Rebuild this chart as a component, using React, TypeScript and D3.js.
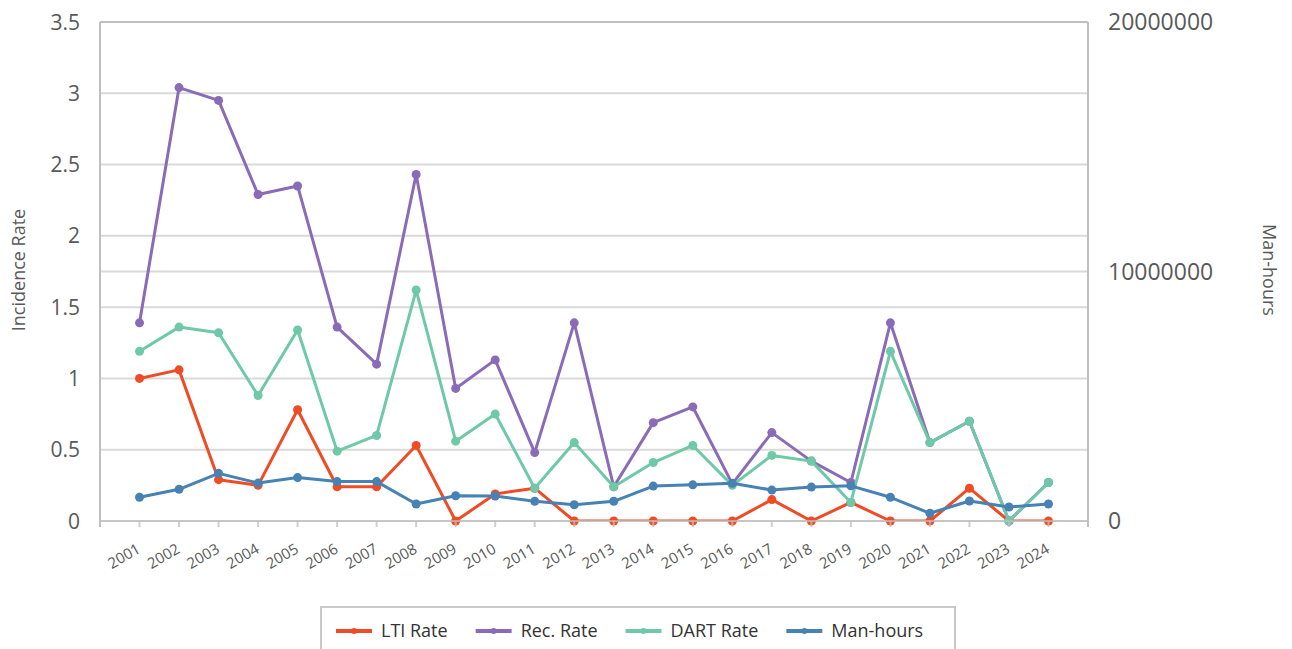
import { useEffect, useRef } from "react";
import * as d3 from "d3";

const years = [
  "2001", "2002", "2003", "2004", "2005", "2006", "2007", "2008",
  "2009", "2010", "2011", "2012", "2013", "2014", "2015", "2016",
  "2017", "2018", "2019", "2020", "2021", "2022", "2023", "2024",
];
const ltiRate = [1.0, 1.06, 0.29, 0.25, 0.78, 0.24, 0.24, 0.53, 0, 0.19, 0.23, 0, 0, 0, 0, 0, 0.15, 0, 0.13, 0, 0, 0.23, 0, 0];
const recRate = [1.39, 3.04, 2.95, 2.29, 2.35, 1.36, 1.1, 2.43, 0.93, 1.13, 0.48, 1.39, 0.24, 0.69, 0.8, 0.26, 0.62, 0.42, 0.27, 1.39, 0.55, 0.7, 0, 0.27];
const dartRate = [1.19, 1.36, 1.32, 0.88, 1.34, 0.49, 0.6, 1.62, 0.56, 0.75, 0.23, 0.55, 0.24, 0.41, 0.53, 0.25, 0.46, 0.42, 0.13, 1.19, 0.55, 0.7, 0, 0.27];
const manHours = [
  950000, 1270000, 1910000, 1520000, 1740000, 1580000, 1580000, 680000,
  1010000, 1000000, 790000, 650000, 790000, 1400000, 1450000, 1510000,
  1240000, 1360000, 1410000, 950000, 310000, 800000, 560000, 680000,
];
const rateTicks = [0, 0.5, 1, 1.5, 2, 2.5, 3, 3.5];
const hourTicks = [0, 10000000, 20000000];

const seriesNames = ["LTI Rate", "Rec. Rate", "DART Rate", "Man-hours"];
const colors = ["#ef4b25", "#8a6bb8", "#6dc9a8", "#4682b4"];

const W = 1292;
const H = 649;
const FONT = "'Open Sans', 'Segoe UI', sans-serif";
const TEXT = "#595959";

const App = () => {
  const ref = useRef<SVGSVGElement>(null);

  useEffect(() => {
    const svg = d3.select(ref.current);
    svg.selectAll("*").remove();

    const left = 100;
    const right = 1088;
    const top = 22;
    const bottom = 521;

    const x = d3.scalePoint<string>().domain(years).range([left, right]).padding(1);
    const yL = d3.scaleLinear().domain([0, 3.5]).range([bottom, top]);
    const yR = d3.scaleLinear().domain([0, 20000000]).range([bottom, top]);

    svg
      .append("defs")
      .append("clipPath")
      .attr("id", "plot")
      .append("rect")
      .attr("x", left)
      .attr("y", top)
      .attr("width", right - left)
      .attr("height", bottom - top);

    // grid lines (both axes)
    const grid = svg.append("g").attr("stroke", "#d9d9d9").attr("stroke-width", 2);
    rateTicks.forEach((t) => {
      grid.append("line").attr("x1", left).attr("x2", right).attr("y1", yL(t)).attr("y2", yL(t));
    });
    hourTicks.forEach((t) => {
      grid.append("line").attr("x1", left).attr("x2", right).attr("y1", yR(t)).attr("y2", yR(t));
    });

    // frame
    const frame = svg.append("g").attr("stroke", "#bfbfbf").attr("stroke-width", 2);
    frame.append("line").attr("x1", left).attr("x2", right).attr("y1", top).attr("y2", top);
    frame.append("line").attr("x1", left).attr("x2", left).attr("y1", top).attr("y2", bottom + 6);
    frame.append("line").attr("x1", right).attr("x2", right).attr("y1", top).attr("y2", bottom + 6);

    // series
    const data = [ltiRate, recRate, dartRate, manHours];
    data.forEach((vals, i) => {
      const yScale = i === 3 ? yR : yL;
      const pts = vals.map((v, j) => [x(years[j]) as number, yScale(v)] as [number, number]);
      svg
        .append("path")
        .attr("clip-path", "url(#plot)")
        .attr("fill", "none")
        .attr("stroke", colors[i])
        .attr("stroke-width", 3)
        .attr("stroke-linejoin", "round")
        .attr("d", d3.line()(pts));
      svg
        .append("g")
        .attr("fill", colors[i])
        .selectAll("circle")
        .data(pts)
        .join("circle")
        .attr("cx", (d) => d[0])
        .attr("cy", (d) => d[1])
        .attr("r", 4.5);
    });

    // bottom axis line + ticks
    const xAxis = svg.append("g").attr("stroke", "#bfbfbf").attr("stroke-width", 2).attr("stroke-opacity", 0.75);
    xAxis.append("line").attr("x1", left - 1).attr("x2", right + 1).attr("y1", bottom).attr("y2", bottom);
    [left, ...years.map((d) => x(d) as number), right].forEach((px) => {
      xAxis.append("line").attr("x1", px).attr("x2", px).attr("y1", bottom).attr("y2", bottom + 6);
    });

    // x labels
    svg
      .append("g")
      .attr("font-family", FONT)
      .attr("font-size", 15)
      .attr("fill", TEXT)
      .attr("text-anchor", "end")
      .selectAll("text")
      .data(years)
      .join("text")
      .attr("transform", (d) => `translate(${(x(d) as number) + 2},552) rotate(-30)`)
      .text((d) => d);

    // left ticks
    svg
      .append("g")
      .attr("font-family", FONT)
      .attr("font-size", 21)
      .attr("fill", TEXT)
      .attr("text-anchor", "end")
      .selectAll("text")
      .data(rateTicks)
      .join("text")
      .attr("x", 80)
      .attr("y", (d) => yL(d))
      .attr("dy", "0.36em")
      .text((d) => String(d));

    // right ticks
    svg
      .append("g")
      .attr("font-family", FONT)
      .attr("font-size", 23)
      .attr("fill", TEXT)
      .attr("text-anchor", "start")
      .selectAll("text")
      .data(hourTicks)
      .join("text")
      .attr("x", 1108)
      .attr("y", (d) => yR(d))
      .attr("dy", "0.36em")
      .text((d) => String(d));

    // axis titles
    svg
      .append("text")
      .attr("transform", "translate(25,270) rotate(-90)")
      .attr("text-anchor", "middle")
      .attr("font-family", FONT)
      .attr("font-size", 18)
      .attr("fill", TEXT)
      .text("Incidence Rate");
    svg
      .append("text")
      .attr("transform", "translate(1263,270) rotate(90)")
      .attr("text-anchor", "middle")
      .attr("font-family", FONT)
      .attr("font-size", 18)
      .attr("fill", TEXT)
      .text("Man-hours");

    // legend
    const lg = svg.append("g");
    lg.append("rect")
      .attr("x", 321)
      .attr("y", 607)
      .attr("width", 634)
      .attr("height", 50)
      .attr("fill", "white")
      .attr("stroke", "#c8c8c8")
      .attr("stroke-width", 2);
    let cx = 336;
    seriesNames.forEach((name, i) => {
      const item = lg.append("g").attr("transform", `translate(${cx},631)`);
      item.append("line").attr("x1", 0).attr("x2", 36).attr("y1", 0).attr("y2", 0)
        .attr("stroke", colors[i]).attr("stroke-width", 4);
      item.append("circle").attr("cx", 18).attr("cy", 0).attr("r", 3).attr("fill", colors[i]);
      const t = item.append("text")
        .attr("x", 45)
        .attr("dy", "0.35em")
        .attr("font-family", FONT)
        .attr("font-size", 18)
        .attr("fill", "#333")
        .text(name);
      const w = (t.node() as SVGTextElement).getComputedTextLength();
      cx += 45 + w + 28;
    });
  }, []);

  return (
    <svg
      ref={ref}
      width={W}
      height={H}
      style={{ position: "absolute", left: 0, top: 0, background: "white" }}
    />
  );
};

export default App;
